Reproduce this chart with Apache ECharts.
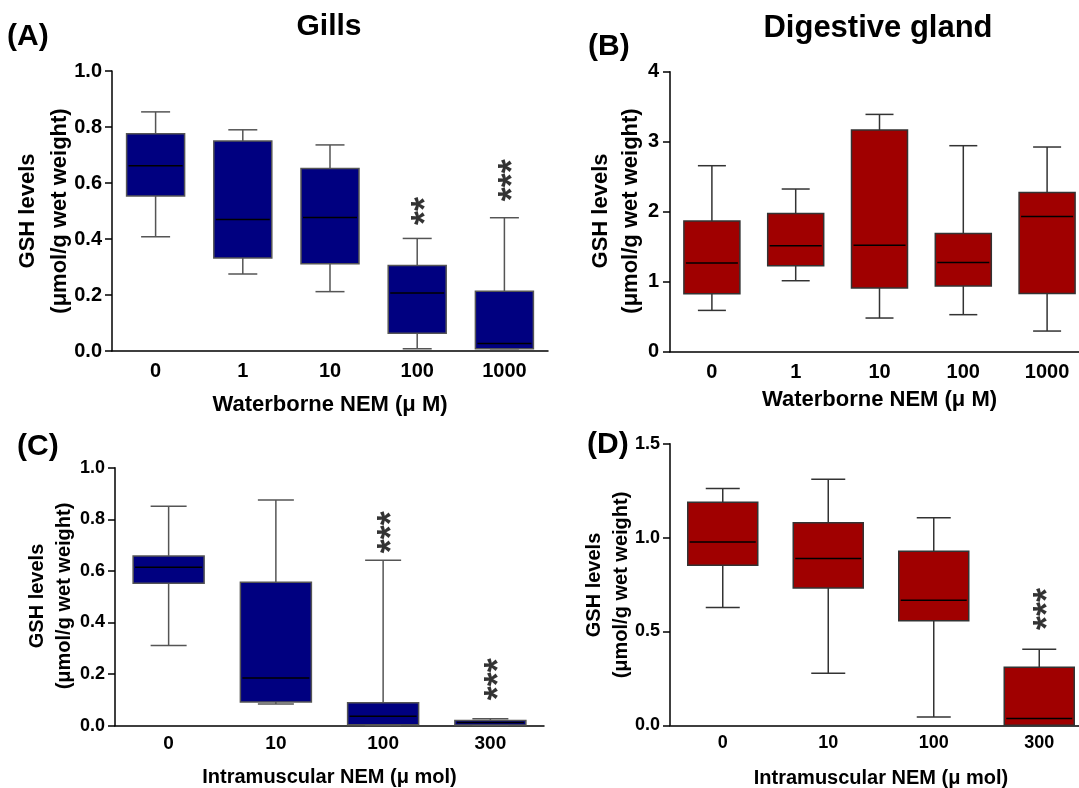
<!DOCTYPE html>
<html>
<head>
<meta charset="utf-8">
<title>GSH levels</title>
<script src="https://cdn.jsdelivr.net/npm/echarts@6/dist/echarts.min.js"></script>
<style>
  html, body { margin: 0; padding: 0; background: #fff; }
  #chart { width: 1079px; height: 788px; }
</style>
</head>
<body>
<div id="chart"></div>
<script>
// box stats are [min, Q1, median, Q3, max]

// (A) gills, waterborne NEM
const catsA = ['0', '1', '10', '100', '1000'];
const boxA = [
  [0.408, 0.554, 0.662, 0.776, 0.854],
  [0.275, 0.332, 0.470, 0.750, 0.790],
  [0.212, 0.312, 0.477, 0.652, 0.736],
  [0.008, 0.063, 0.207, 0.305, 0.402],
  [0.008, 0.008, 0.027, 0.213, 0.476]
];
const starCatA = ['100', '1000'];
const starYA = [0.50, 0.61];
const starTxtA = ['**', '***'];

// (B) digestive gland, waterborne NEM
const catsB = ['0', '1', '10', '100', '1000'];
const boxB = [
  [0.590, 0.829, 1.267, 1.867, 2.657],
  [1.014, 1.229, 1.514, 1.976, 2.324],
  [0.481, 0.910, 1.519, 3.167, 3.390],
  [0.529, 0.938, 1.276, 1.690, 2.943],
  [0.295, 0.833, 1.933, 2.276, 2.924]
];

// (C) gills, intramuscular NEM
const catsC = ['0', '10', '100', '300'];
const boxC = [
  [0.311, 0.552, 0.614, 0.658, 0.851],
  [0.084, 0.092, 0.185, 0.556, 0.875],
  [0.002, 0.004, 0.037, 0.089, 0.641],
  [0.002, 0.003, 0.012, 0.020, 0.027]
];
const starCatC = ['100', '300'];
const starYC = [0.75, 0.18];
const starTxtC = ['***', '***'];

// (D) digestive gland, intramuscular NEM
const catsD = ['0', '10', '100', '300'];
const boxD = [
  [0.628, 0.852, 0.976, 1.188, 1.262],
  [0.277, 0.731, 0.889, 1.079, 1.310],
  [0.044, 0.557, 0.666, 0.927, 1.106],
  [0.000, 0.000, 0.036, 0.309, 0.405]
];
const starCatD = ['300'];
const starYD = [0.62];
const starTxtD = ['***'];

const FONT = '"Liberation Sans", Arial, sans-serif';
const BLUE = '#000080';
const RED = '#a00000';

let chart = echarts.init(document.getElementById('chart'), null, { renderer: 'canvas' });

// box with half-width whisker caps
function boxItem(boxW, capW, fill, edge) {
  return function (params, api) {
    const i = api.value(0);
    const lo = api.coord([i, api.value(1)]);
    const q1 = api.coord([i, api.value(2)]);
    const md = api.coord([i, api.value(3)]);
    const q3 = api.coord([i, api.value(4)]);
    const hi = api.coord([i, api.value(5)]);
    const cx = md[0];
    const ln = (x1, y1, x2, y2, c) => ({
      type: 'line', shape: { x1, y1, x2, y2 }, style: { stroke: c, lineWidth: 1.5 }
    });
    return {
      type: 'group',
      children: [
        ln(cx, hi[1], cx, q3[1], edge),
        ln(cx, q1[1], cx, lo[1], edge),
        ln(cx - capW / 2, hi[1], cx + capW / 2, hi[1], edge),
        ln(cx - capW / 2, lo[1], cx + capW / 2, lo[1], edge),
        {
          type: 'rect',
          shape: { x: cx - boxW / 2, y: q3[1], width: boxW, height: q1[1] - q3[1] },
          style: { fill: fill, stroke: edge, lineWidth: 1.5 }
        },
        ln(cx - boxW / 2 + 2, md[1], cx + boxW / 2 - 2, md[1], '#000')
      ]
    };
  };
}

function boxSeries(gi, stats, boxW, capW, fill, edge) {
  return {
    type: 'custom',
    xAxisIndex: gi, yAxisIndex: gi,
    renderItem: boxItem(boxW, capW, fill, edge),
    encode: { x: 0, y: [1, 2, 3, 4, 5] },
    data: stats.map((s, i) => [i].concat(s)),
    silent: true
  };
}

// significance stars, drawn as text turned on its side
function starSeries(gi, cats, ys, txts) {
  return {
    type: 'scatter',
    xAxisIndex: gi, yAxisIndex: gi,
    symbolSize: 1,
    itemStyle: { color: 'rgba(0,0,0,0)' },
    data: cats.map((c, i) => ({
      value: [c, ys[i]],
      label: { formatter: txts[i] }
    })),
    label: {
      show: true, position: 'inside', rotate: 90, offset: [0, 10],
      color: '#000', fontSize: 36, fontWeight: 'bold', fontFamily: FONT
    },
    silent: true
  };
}

function xAx(gi, cats, fs, margin, name, gap, nameFs) {
  return {
    type: 'category', gridIndex: gi, data: cats,
    axisLine: { lineStyle: { color: '#000', width: 1.5 } },
    axisTick: { alignWithLabel: true, length: 7, lineStyle: { color: '#000', width: 1.5 } },
    axisLabel: { color: '#000', fontWeight: 'bold', fontSize: fs, fontFamily: FONT, margin: margin },
    splitLine: { show: false },
    name: name, nameLocation: 'middle', nameGap: gap,
    nameTextStyle: { color: '#000', fontWeight: 'bold', fontSize: nameFs, fontFamily: FONT }
  };
}

function yAx(gi, max, interval, digits, fs, margin) {
  return {
    type: 'value', gridIndex: gi, min: 0, max: max, interval: interval,
    axisLine: { show: true, lineStyle: { color: '#000', width: 1.5 } },
    axisTick: { show: true, length: 7, lineStyle: { color: '#000', width: 1.5 } },
    splitLine: { show: false },
    axisLabel: {
      color: '#000', fontWeight: 'bold', fontSize: fs, fontFamily: FONT, margin: margin,
      formatter: (v) => v.toFixed(digits)
    }
  };
}

function txt(x, y, s, size, align, rot) {
  return {
    type: 'text', x: x, y: y, rotation: rot || 0,
    style: {
      text: s, fill: '#000', font: 'bold ' + size + 'px ' + FONT,
      align: align || 'center', verticalAlign: 'middle'
    }
  };
}

const R = Math.PI / 2;

let option = {
  backgroundColor: '#fff',
  animation: false,
  grid: [
    { left: 112, top: 71, width: 436, height: 280, outerBoundsMode: 'none' },
    { left: 670, top: 71.7, width: 419, height: 280, outerBoundsMode: 'none' },
    { left: 115, top: 467.7, width: 429, height: 258, outerBoundsMode: 'none' },
    { left: 670, top: 443.7, width: 422, height: 281.6, outerBoundsMode: 'none' }
  ],
  xAxis: [
    xAx(0, catsA, 20, 10, 'Waterborne NEM (\u03bc M)', 43, 22),
    xAx(1, catsB, 20, 11, 'Waterborne NEM (\u03bc M)', 37, 22),
    xAx(2, catsC, 19, 9, 'Intramuscular NEM (\u03bc mol)', 42, 20),
    xAx(3, catsD, 18, 9, 'Intramuscular NEM (\u03bc mol)', 43, 20)
  ],
  yAxis: [
    yAx(0, 1, 0.2, 1, 20, 10),
    yAx(1, 4, 1, 0, 20, 11),
    yAx(2, 1, 0.2, 1, 18, 10),
    yAx(3, 1.5, 0.5, 1, 18, 10)
  ],
  graphic: [
    txt(329, 27, 'Gills', 30),
    txt(878, 28, 'Digestive gland', 31),
    txt(7, 37, '(A)', 30, 'left'),
    txt(588, 47, '(B)', 30, 'left'),
    txt(17, 447, '(C)', 30, 'left'),
    txt(587, 445, '(D)', 30, 'left'),
    txt(28, 211, 'GSH levels', 22, 'center', R),
    txt(60, 211, '(\u03bcmol/g wet weight)', 22, 'center', R),
    txt(601, 211, 'GSH levels', 22, 'center', R),
    txt(631, 211, '(\u03bcmol/g wet weight)', 22, 'center', R),
    txt(37, 596, 'GSH levels', 20, 'center', R),
    txt(64, 596, '(\u03bcmol/g wet weight)', 20, 'center', R),
    txt(594, 585, 'GSH levels', 20, 'center', R),
    txt(621, 585, '(\u03bcmol/g wet weight)', 20, 'center', R)
  ],
  series: [
    boxSeries(0, boxA, 58, 29, BLUE, '#555'),
    boxSeries(1, boxB, 56, 28, RED, '#333'),
    boxSeries(2, boxC, 71, 36, BLUE, '#555'),
    boxSeries(3, boxD, 70, 34, RED, '#333'),
    starSeries(0, starCatA, starYA, starTxtA),
    starSeries(2, starCatC, starYC, starTxtC),
    starSeries(3, starCatD, starYD, starTxtD)
  ]
};

option && chart.setOption(option);
</script>
</body>
</html>
